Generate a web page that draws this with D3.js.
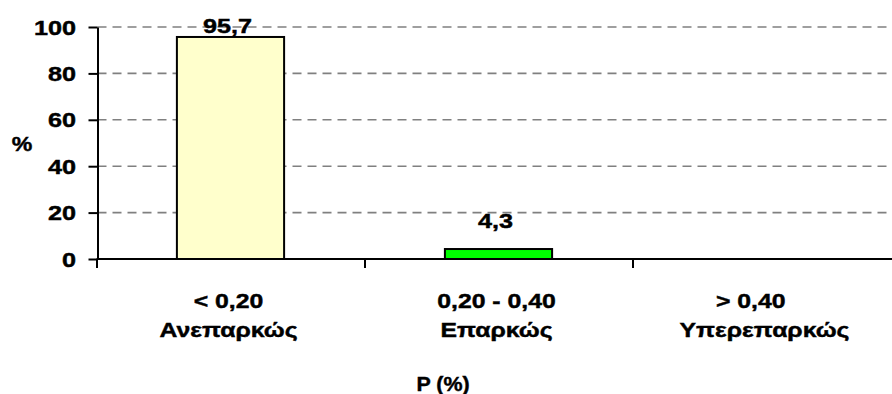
<!DOCTYPE html>
<html>
<head>
<meta charset="utf-8">
<script src="https://cdn.jsdelivr.net/npm/d3@7"></script>
<style>
  html, body { margin: 0; padding: 0; background: #fff; }
  svg { display: block; }
  text { font-family: "Liberation Sans", Arial, sans-serif; font-weight: bold; fill: #000; stroke: #000; stroke-width: 0.45px; }
</style>
</head>
<body>
<svg id="chart" width="892" height="394"></svg>
<script>
// ---- data ----
const categories = ["< 0,20", "0,20 - 0,40", "> 0,40"];
const categoryLine1 = ["< 0,20", "0,20 - 0,40", "> 0,40\u00a0\u00a0\u00a0\u00a0"];
const categoryLine2 = ["Ανεπαρκώς", "Επαρκώς", "Υπερεπαρκώς"];
const values = [95.7, 4.3, null];
const valueLabels = ["95,7", "4,3", ""];
const barColors = ["#FFFFCC", "#00FF00", "#FFFFFF"];
const yTicks = [0, 20, 40, 60, 80, 100];
const yTitle = "%";
const xTitle = "P  (%)";

// ---- layout / style constants ----
const labelLift = [4, 21];

const svg = d3.select("#chart");
const y = d3.scaleLinear().domain([0, 100]).range([259, 27]);
const x = d3.scaleBand().domain(categories).range([96.5, 900.5])
  .paddingInner(0.6).paddingOuter(0.3);
const step = x.step();
const bw = x.bandwidth();
const left = x.range()[0];
const right = x.range()[1];

function stext(g, tx, ty, str, anchor, size, sx) {
  return g.append("text")
    .attr("transform", `translate(${tx},${ty}) scale(${sx},1)`)
    .attr("text-anchor", anchor)
    .style("font-size", size + "px")
    .text(str);
}

// gridlines
svg.append("g").selectAll("line")
  .data(yTicks.filter(d => d > 0))
  .join("line")
  .attr("x1", left + 1).attr("x2", right)
  .attr("y1", d => y(d)).attr("y2", d => y(d))
  .attr("stroke", "#808080")
  .attr("stroke-width", 1.6)
  .attr("stroke-dasharray", "9,6");

// bars
const barData = categories.map((c, i) => ({ c, v: values[i], i })).filter(d => d.v != null);
svg.append("g").selectAll("rect")
  .data(barData)
  .join("rect")
  .attr("x", d => x(d.c))
  .attr("width", bw)
  .attr("y", d => y(d.v))
  .attr("height", d => y(0) - y(d.v))
  .attr("fill", d => barColors[d.i])
  .attr("stroke", "#000")
  .attr("stroke-width", 2);

// value labels
const vl = svg.append("g");
barData.forEach(d => {
  stext(vl, x(d.c) + bw / 2 - 3, y(d.v) - labelLift[d.i], valueLabels[d.i], "middle", 21, 1.2);
});

// y axis
const yAxis = svg.append("g").attr("transform", `translate(${left + 1},0)`)
  .call(d3.axisLeft(y).tickValues(yTicks).tickSize(9).tickSizeOuter(0).tickFormat(d3.format("d")));
yAxis.select(".domain").attr("stroke", "#000").attr("stroke-width", 2);
yAxis.selectAll(".tick line").attr("stroke", "#000").attr("stroke-width", 2);
yAxis.selectAll(".tick text").remove();
const yl = svg.append("g");
yTicks.forEach(t => stext(yl, 76, y(t) + 7.5, String(t), "end", 21, 1.2));

// x axis
svg.append("line")
  .attr("x1", left).attr("x2", right)
  .attr("y1", y(0)).attr("y2", y(0))
  .attr("stroke", "#000").attr("stroke-width", 2);
const bounds = categories.map(c => x(c) - (step - bw) / 2).concat([x(categories[2]) + bw + (step - bw) / 2]);
svg.append("g").selectAll("line")
  .data(bounds)
  .join("line")
  .attr("x1", d => d + 0.5).attr("x2", d => d + 0.5)
  .attr("y1", y(0)).attr("y2", y(0) + 9)
  .attr("stroke", "#000").attr("stroke-width", 2);

// category labels
const cl = svg.append("g");
categories.forEach((c, i) => {
  const cx = x(c) + bw / 2;
  stext(cl, cx - 2, 308, categoryLine1[i], "middle", 21, 1.18);
  stext(cl, cx - 2, 337, categoryLine2[i], "middle", 21, 1.18);
});

// titles
stext(svg, 22, 151, yTitle, "middle", 21, 1.1);
stext(svg, 443, 391, xTitle, "middle", 21, 1.02);
</script>
</body>
</html>
